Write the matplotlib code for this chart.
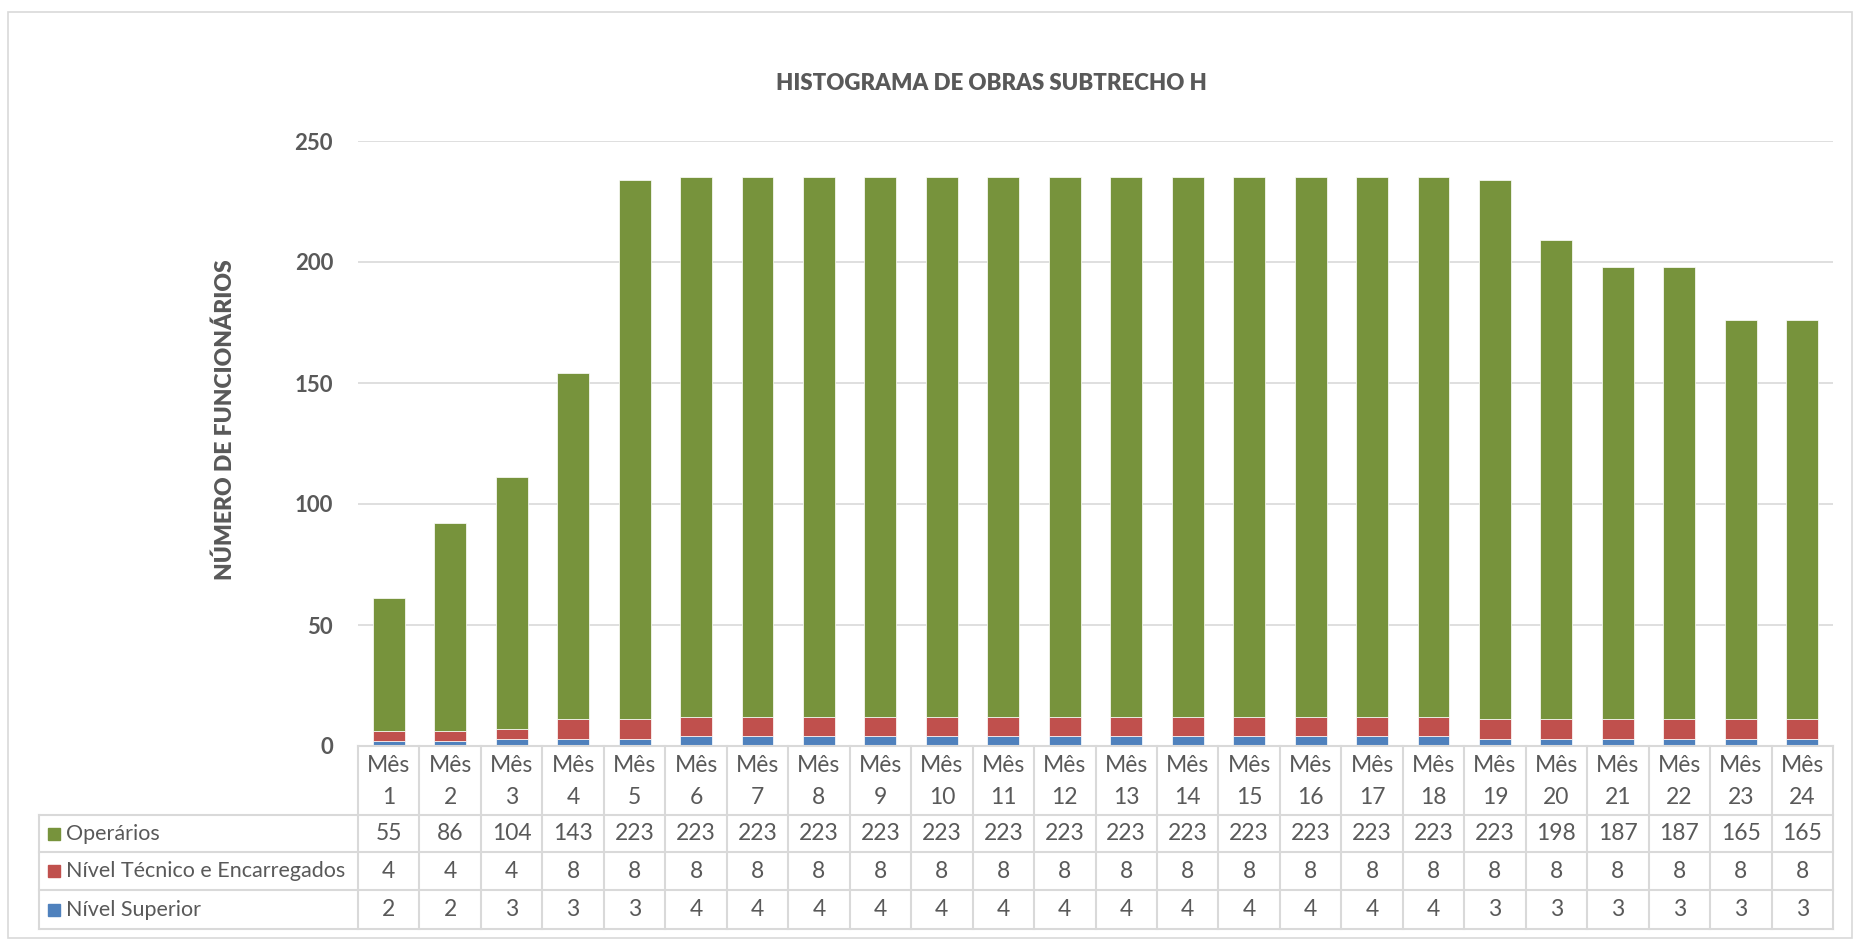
import matplotlib.pyplot as plt
import numpy as np

plt.rcParams['font.family'] = ['Lato', 'DejaVu Sans']

# dados do histograma
meses = ["Mês\n%d" % i for i in range(1, 25)]
operarios = [55, 86, 104, 143, 223, 223, 223, 223, 223, 223, 223, 223,
             223, 223, 223, 223, 223, 223, 223, 198, 187, 187, 165, 165]
tecnico = [4, 4, 4, 8, 8, 8, 8, 8, 8, 8, 8, 8,
           8, 8, 8, 8, 8, 8, 8, 8, 8, 8, 8, 8]
superior = [2, 2, 3, 3, 3, 4, 4, 4, 4, 4, 4, 4,
            4, 4, 4, 4, 4, 4, 3, 3, 3, 3, 3, 3]
series = [("Operários", operarios, "#77933C"),
          ("Nível Técnico e Encarregados", tecnico, "#C0504D"),
          ("Nível Superior", superior, "#4F81BD")]
yticks = [0, 50, 100, 150, 200, 250]

W, H = 1854, 941
txt = "#595959"
grid = "#D9D9D9"

fig = plt.figure(figsize=(W / 100, H / 100), dpi=100)

# borda externa
fig.patches.append(plt.Rectangle((8 / W, 1 - 938 / H), (W - 10) / W, (938 - 12) / H,
                                 transform=fig.transFigure, fill=False,
                                 edgecolor=grid, linewidth=1.2))

# area do grafico
x0, x1, y0, y1 = 358, 1833, 746, 141
ax = fig.add_axes([x0 / W, 1 - y0 / H, (x1 - x0) / W, (y0 - y1) / H])
x = np.arange(len(meses))
sup = np.array(superior)
tec = np.array(tecnico)
ope = np.array(operarios)
ax.bar(x, sup, width=0.52, color="#4F81BD", edgecolor="white", linewidth=0.5)
ax.bar(x, tec, width=0.52, bottom=sup, color="#C0504D", edgecolor="white", linewidth=0.5)
ax.bar(x, ope, width=0.52, bottom=sup + tec, color="#77933C", edgecolor="white", linewidth=0.5)
ax.set_xlim(-0.5, len(meses) - 0.5)
ax.set_ylim(0, 250)
ax.set_yticks(yticks)
ax.set_xticks([])
ax.yaxis.grid(True, color=grid, linewidth=1.2)
ax.set_axisbelow(True)
for s in ax.spines.values():
    s.set_visible(False)
ax.tick_params(axis='y', length=0, pad=18, labelsize=16, labelcolor=txt)
for lb in ax.get_yticklabels():
    lb.set_fontweight("bold")

fig.text(991 / W, 1 - 83 / H, "HISTOGRAMA DE OBRAS SUBTRECHO H", ha="center",
         va="center", fontsize=16, fontweight="heavy", color=txt)
fig.text(225 / W, 1 - 420 / H, "NÚMERO DE FUNCIONÁRIOS", ha="center", va="center",
         rotation=90, fontsize=16.5, fontweight="heavy", color=txt)

# tabela de dados
sx = 24 / (x1 - x0)
tl = 39
xmin = -0.5 - (x0 - tl) * sx
tb = fig.add_axes([tl / W, 1 - 929 / H, (x1 - tl) / W, (929 - 746) / H])
tb.set_xlim(xmin, len(meses) - 0.5)
tb.set_ylim(929, 746)
tb.axis("off")

rows = [746, 815, 852, 890, 929]
for k in range(len(meses) + 1):
    tb.plot([k - 0.5, k - 0.5], [746, 929], color=grid, lw=1.5, clip_on=False)
tb.plot([-0.5, len(meses) - 0.5], [746, 746], color=grid, lw=1.5, clip_on=False)
for r in rows[1:]:
    tb.plot([xmin, len(meses) - 0.5], [r, r], color=grid, lw=1.5, clip_on=False)
tb.plot([xmin, xmin], [815, 929], color=grid, lw=1.5, clip_on=False)

for i, m in enumerate(meses):
    tb.text(i, (rows[0] + rows[1]) / 2 + 1, m, ha="center", va="center",
            fontsize=16.5, color=txt, linespacing=1.7)
for j, (nome, vals, cor) in enumerate(series):
    yc = (rows[j + 1] + rows[j + 2]) / 2
    tb.plot(xmin + 15 * sx, yc, marker="s", ms=9, color=cor, clip_on=False)
    tb.text(xmin + 27 * sx, yc, nome, ha="left", va="center", fontsize=15.5, color=txt)
    for i, v in enumerate(vals):
        tb.text(i, yc, str(v), ha="center", va="center", fontsize=16.5, color=txt)

fig.savefig("out.png", dpi=100)
